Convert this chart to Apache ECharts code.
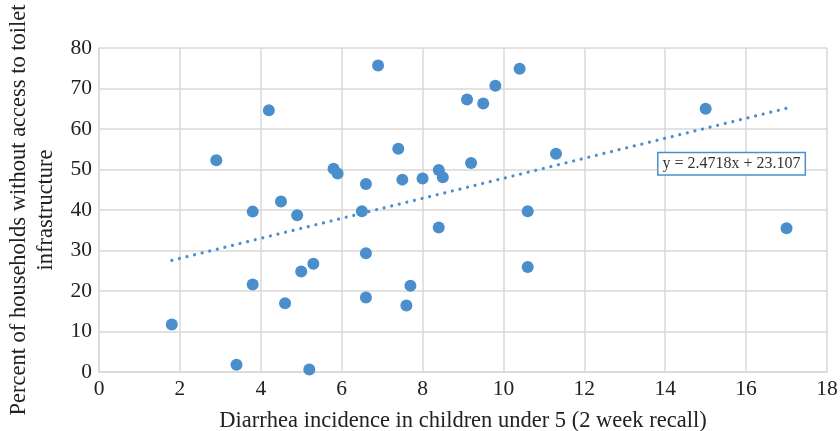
<!DOCTYPE html>
<html>
<head>
<meta charset="utf-8">
<script src="https://cdn.jsdelivr.net/npm/echarts@6/dist/echarts.min.js"></script>
<style>html,body{margin:0;padding:0;background:#fff}#c{width:840px;height:431px}</style>
</head>
<body>
<div id="c"></div>
<script>
const diarrhea = [1.8, 2.9, 3.4, 3.8, 3.8, 4.2, 4.5, 4.6, 4.9, 5.0, 5.2, 5.3, 5.8, 5.9, 6.5, 6.6, 6.6, 6.6, 6.9, 7.4, 7.5, 7.6, 7.7, 8.0, 8.4, 8.5, 8.4, 9.1, 9.2, 9.5, 9.8, 10.4, 10.6, 10.6, 11.3, 15.0, 17.0];
const noToilet = [11.7, 52.3, 1.8, 39.6, 21.6, 64.6, 42.1, 17.0, 38.7, 24.8, 0.6, 26.7, 50.2, 49.0, 39.7, 46.4, 29.3, 18.4, 75.7, 55.1, 47.5, 16.4, 21.3, 47.8, 49.9, 48.1, 35.7, 67.3, 51.6, 66.3, 70.7, 74.9, 39.7, 25.9, 53.9, 65.0, 35.5];
const trendX = [1.8, 17.0];
const trendY = [27.56, 65.13];
const trendLabel = 'y = 2.4718x + 23.107';
const labelAt = [15.64, 51.4];
const xTitle = 'Diarrhea incidence in children under 5 (2 week recall)';
const yTitle = 'Percent of households without access to toilet\ninfrastructure';

const blue = '#4a8fcb';
const font = 'Liberation Serif';
const chart = echarts.init(document.getElementById('c'), null, {renderer: 'canvas'});
chart.setOption({
  animation: false,
  backgroundColor: '#fff',
  grid: {left: 99, right: 13, top: 48, bottom: 59, containLabel: false, outerBoundsMode: 'none'},
  xAxis: {
    type: 'value', min: 0, max: 18, interval: 2,
    name: xTitle, nameLocation: 'middle', nameGap: 38,
    nameTextStyle: {fontFamily: font, fontSize: 22.5, color: '#222'},
    axisLine: {show: true, lineStyle: {color: '#d9d9d9', width: 1.5}},
    axisTick: {show: false},
    axisLabel: {fontFamily: font, fontSize: 21.5, color: '#222', margin: 6},
    splitLine: {show: true, lineStyle: {color: '#d9d9d9', width: 1.5}}
  },
  yAxis: {
    type: 'value', min: 0, max: 80, interval: 10,
    name: yTitle, nameLocation: 'middle', nameGap: 36,
    nameTextStyle: {fontFamily: font, fontSize: 22.5, color: '#222', lineHeight: 27, align: 'center'},
    axisLine: {show: true, lineStyle: {color: '#d9d9d9', width: 1.5}},
    axisTick: {show: false},
    axisLabel: {fontFamily: font, fontSize: 21.5, color: '#222', margin: 7},
    splitLine: {show: true, lineStyle: {color: '#d9d9d9', width: 1.5}}
  },
  series: [
    {
      type: 'line',
      data: trendX.map((x, i) => [x, trendY[i]]),
      symbol: 'none',
      lineStyle: {color: blue, width: 3.2, type: [0.01, 7.8], cap: 'round'},
      silent: true,
      z: 1,
      markPoint: {
        symbol: 'rect', symbolSize: 1,
        itemStyle: {color: 'rgba(0,0,0,0)'},
        data: [{coord: labelAt, value: trendLabel}],
        label: {
          show: true, position: 'inside', formatter: trendLabel,
          fontFamily: font, fontSize: 16, color: '#333',
          backgroundColor: '#fff', borderColor: blue, borderWidth: 1.5,
          padding: [3, 4, 2, 4]
        }
      }
    },
    {
      type: 'scatter',
      data: diarrhea.map((x, i) => [x, noToilet[i]]),
      symbolSize: 12,
      itemStyle: {color: blue, opacity: 1},
      z: 3
    }
  ]
});
</script>
</body>
</html>
